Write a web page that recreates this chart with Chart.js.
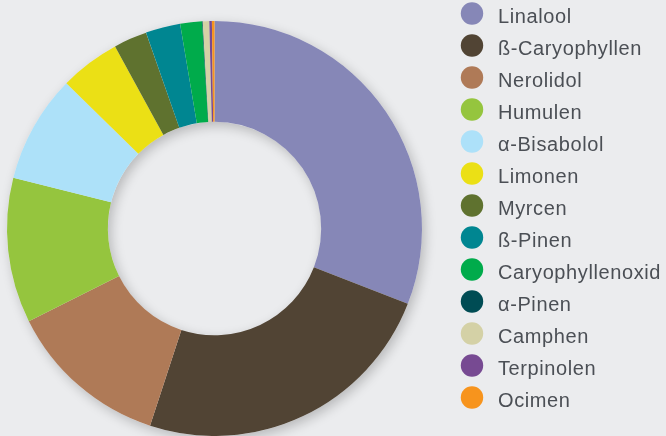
<!DOCTYPE html>
<html>
<head>
<meta charset="utf-8">
<script src="https://cdn.jsdelivr.net/npm/chart.js@4.4.1/dist/chart.umd.min.js"></script>
<style>
  html, body { margin: 0; padding: 0; background: #ebecee; }
  #wrap { width: 666px; height: 436px; position: relative; }
</style>
</head>
<body>
<div id="wrap"><canvas id="terpChart" width="666" height="436"></canvas></div>
<script>
// Terpene-Anteile (%), im Uhrzeigersinn ab 12 Uhr
const labels = ['Linalool', 'ß-Caryophyllen', 'Nerolidol', 'Humulen', 'α-Bisabolol', 'Limonen',
  'Myrcen', 'ß-Pinen', 'Caryophyllenoxid', 'α-Pinen', 'Camphen', 'Terpinolen', 'Ocimen'];
const values = [30.9, 24.1, 12.6, 11.3, 8.4, 4.7, 2.6, 2.7, 1.7, 0.05, 0.5, 0.2, 0.2];
const colors = ['#8687b7', '#514434', '#af7a57', '#95c53e', '#ade1f9', '#ebe015',
  '#5f722f', '#008691', '#00ab4b', '#004c54', '#d4d1a6', '#774a92', '#f7941d'];

const BG = '#ebecee';
const TEXT = '#4b4f55';

// sombra suave debajo del anillo
const ringShadow = {
  id: 'ringShadow',
  beforeDatasetsDraw(chart) {
    const arc = chart.getDatasetMeta(0).data[0];
    if (!arc) return;
    const { x, y, innerRadius, outerRadius } = arc.getProps(['x', 'y', 'innerRadius', 'outerRadius'], true);
    const ctx = chart.ctx;
    ctx.save();
    ctx.beginPath();
    ctx.arc(x, y, outerRadius, 0, Math.PI * 2);
    ctx.arc(x, y, innerRadius, 0, Math.PI * 2, true);
    ctx.closePath();
    ctx.shadowColor = 'rgba(0, 0, 0, 0.22)';
    ctx.shadowBlur = 12;
    ctx.shadowOffsetX = 3;
    ctx.shadowOffsetY = 4;
    ctx.fillStyle = BG;
    ctx.fill();
    ctx.restore();
  }
};

// leyenda a la derecha con círculos
const sideLegend = {
  id: 'sideLegend',
  afterDraw(chart) {
    const ctx = chart.ctx;
    const ds = chart.data.datasets[0];
    ctx.save();
    ctx.font = '20px "Liberation Sans", Arial, sans-serif';
    ctx.letterSpacing = '0.6px';
    ctx.textAlign = 'left';
    ctx.textBaseline = 'alphabetic';
    chart.data.labels.forEach((label, i) => {
      const cy = 13.5 + i * 32;
      ctx.beginPath();
      ctx.arc(472, cy, 11.2, 0, Math.PI * 2);
      ctx.fillStyle = ds.backgroundColor[i];
      ctx.fill();
      ctx.fillStyle = TEXT;
      ctx.fillText(label, 498, cy + 9);
    });
    ctx.restore();
  }
};

const ctx = document.getElementById('terpChart').getContext('2d');
new Chart(ctx, {
  type: 'doughnut',
  data: {
    labels: labels,
    datasets: [{
      data: values,
      backgroundColor: colors,
      borderWidth: 0,
      hoverOffset: 0
    }]
  },
  options: {
    responsive: false,
    animation: false,
    cutout: '51.4%',
    layout: {
      padding: { left: 7, right: 244, top: 21, bottom: 0 }
    },
    plugins: {
      legend: { display: false },
      tooltip: { enabled: false }
    }
  },
  plugins: [ringShadow, sideLegend]
});
</script>
</body>
</html>
